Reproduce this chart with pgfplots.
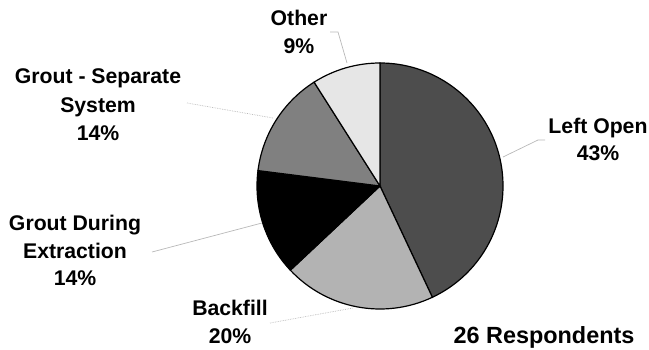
\documentclass[border=0pt]{standalone}
\usepackage{pgfplots}
\pgfplotsset{compat=1.18}
\usepackage{fontspec}
\setmainfont{Liberation Sans}
\definecolor{cLeft}{HTML}{4D4D4D}
\definecolor{cBack}{HTML}{B3B3B3}
\definecolor{cGDE}{HTML}{000000}
\definecolor{cGSS}{HTML}{808080}
\definecolor{cOther}{HTML}{E6E6E6}
\definecolor{cLead}{HTML}{B8B8B8}
\tikzset{lbl/.style={font=\fontsize{21.3}{25}\selectfont\bfseries, anchor=base, inner sep=0pt}}
\begin{document}
\begin{tikzpicture}
% shares in percent
\def\pLeft{43}\def\pBack{20}\def\pGDE{14}\def\pGSS{14}\def\pOther{9}
\pgfmathsetmacro{\aA}{90}
\pgfmathsetmacro{\aB}{\aA-3.6*\pLeft}
\pgfmathsetmacro{\aC}{\aB-3.6*\pBack}
\pgfmathsetmacro{\aD}{\aC-3.6*\pGDE}
\pgfmathsetmacro{\aE}{\aD-3.6*\pGSS}
\pgfmathsetmacro{\aF}{\aE-3.6*\pOther}
\def\R{123bp}
\begin{axis}[
  width=649bp, height=350bp, scale only axis,
  xmin=0, xmax=649, ymin=0, ymax=350,
  hide axis, clip=false,
]
\path (axis cs:0,0) rectangle (axis cs:649,350);
\filldraw[fill=cLeft, draw=black, line width=1.2bp] (axis cs:380,164) -- ++(\aA:\R) arc[start angle=\aA, end angle=\aB, radius=\R] -- cycle;
\filldraw[fill=cBack, draw=black, line width=1.2bp] (axis cs:380,164) -- ++(\aB:\R) arc[start angle=\aB, end angle=\aC, radius=\R] -- cycle;
\filldraw[fill=cGDE, draw=black, line width=1.2bp] (axis cs:380,164) -- ++(\aC:\R) arc[start angle=\aC, end angle=\aD, radius=\R] -- cycle;
\filldraw[fill=cGSS, draw=black, line width=1.2bp] (axis cs:380,164) -- ++(\aD:\R) arc[start angle=\aD, end angle=\aE, radius=\R] -- cycle;
\filldraw[fill=cOther, draw=black, line width=1.2bp] (axis cs:380,164) -- ++(\aE:\R) arc[start angle=\aE, end angle=\aF, radius=\R] -- cycle;
% leader lines
\draw[cLead, line width=0.7bp] (axis cs:330,318) -- (axis cs:338,318) -- (axis cs:347,287);
\draw[cLead, line width=0.7bp, densely dotted] (axis cs:187,247) -- (axis cs:273,232);
\draw[cLead, line width=0.7bp] (axis cs:152,98) -- (axis cs:262,127);
\draw[cLead, line width=0.7bp, densely dotted] (axis cs:270,27) -- (axis cs:353,42);
\draw[cLead, line width=0.7bp] (axis cs:545,210) -- (axis cs:538,210) -- (axis cs:503,193);
% labels
\node[lbl] at (axis cs:299,325) {Other};
\node[lbl] at (axis cs:299,297) {9\%};
\node[lbl] at (axis cs:98,267) {Grout - Separate};
\node[lbl] at (axis cs:98,238) {System};
\node[lbl] at (axis cs:98,210) {14\%};
\node[lbl] at (axis cs:75,120) {Grout During};
\node[lbl] at (axis cs:75,92) {Extraction};
\node[lbl] at (axis cs:75,65) {14\%};
\node[lbl] at (axis cs:230,35) {Backfill};
\node[lbl] at (axis cs:230,7) {20\%};
\node[lbl] at (axis cs:598,217) {Left Open};
\node[lbl] at (axis cs:598,190) {43\%};
\node[lbl, font=\fontsize{23.5}{28}\selectfont\bfseries] at (axis cs:544,7) {26 Respondents};
\end{axis}
\end{tikzpicture}
\end{document}
